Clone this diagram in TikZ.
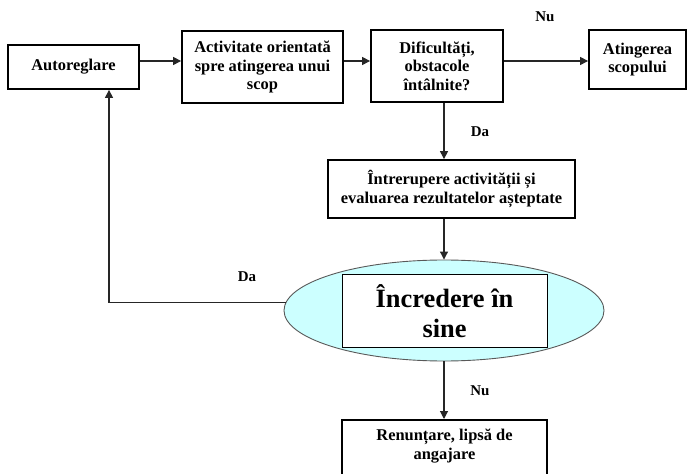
\documentclass[tikz,border=0pt]{standalone}
\usepackage{fontspec}
\setmainfont{Liberation Serif}
\usetikzlibrary{arrows.meta,shapes.geometric}
\definecolor{lineclr}{HTML}{262626}
\definecolor{bubble}{HTML}{CCFFFF}
\tikzset{
  stepbox/.style={draw=black, line width=1.8bp, rectangle, align=center,
    font=\fontsize{16.5}{18.5}\selectfont\bfseries, inner sep=0pt},
  link/.style={draw=lineclr, line width=1.1bp, -{Triangle[length=8bp,width=8bp]}},
  tag/.style={font=\fontsize{15}{17}\selectfont\bfseries, inner sep=0pt}
}
\begin{document}
\begin{tikzpicture}[x=1bp,y=-1bp]
\useasboundingbox (0,0) rectangle (687,474);
\clip (0,0) rectangle (687,474);
\fill[white] (0,0) rectangle (687,474);

% process boxes of the top row
\node[stepbox, minimum width=131bp, minimum height=44bp] (auto) at (73.5,67) {Autoreglare};
\node[stepbox, minimum width=161bp, minimum height=72bp] (act) at (262.5,67)
  {Activitate orientată\\spre atingerea unui\\scop};
\node[stepbox, minimum width=132bp, minimum height=72bp] (dif) at (437,66)
  {Dificultăți,\\obstacole\\întâlnite?};
\node[stepbox, minimum width=97bp, minimum height=59bp] (ati) at (637.5,59.5)
  {Atingerea\\scopului};

% evaluation step
\node[stepbox, minimum width=247bp, minimum height=58bp] (intr) at (451.5,189)
  {Întrerupere activității și\\evaluarea rezultatelor așteptate};

% self-confidence decision
\node[ellipse, draw=black!65, line width=0.9bp, fill=bubble,
  minimum width=320bp, minimum height=101bp] (ell) at (444,310.5) {};
\node[draw=black, line width=1bp, fill=white, minimum width=205bp, minimum height=72bp,
  align=center, inner sep=0pt, font=\fontsize{26.5}{30}\selectfont\bfseries]
  (conf) at (444.5,311) {Încredere în\\sine};

% giving up (box runs past the lower edge)
\node[stepbox, minimum width=205bp, minimum height=100bp, anchor=north] (ren) at (444.5,419) {};
\node[align=center, font=\fontsize{16.5}{18.5}\selectfont\bfseries, anchor=north, inner sep=0pt]
  (renT) at ([yshift=-10bp]ren.north) {Renunțare, lipsă de\\angajare};

% helper coordinates for the connector routes
\coordinate (rowy) at (0,61);
\coordinate (fbx) at (109,0);

% connectors
\draw[link] (auto.east |- rowy) -- (act.west |- rowy);
\draw[link] (act.east |- rowy) -- (dif.west |- rowy);
\draw[link] (dif.east |- rowy) -- (ati.west |- rowy);
\draw[link] (ell |- dif.south) -- (ell |- intr.north);
\draw[link] (ell |- intr.south) -- (ell.north);
\draw[link] (ell.south) -- (ell |- ren.north);
\draw[link] (ell.177.5) -| (fbx |- auto.south);

% branch labels
\node[tag] (nu1) at (545,17) {Nu};
\node[tag] (da1) at (480,132) {Da};
\node[tag] (da2) at (247,277) {Da};
\node[tag] (nu2) at (480,391) {Nu};
\end{tikzpicture}
\end{document}
